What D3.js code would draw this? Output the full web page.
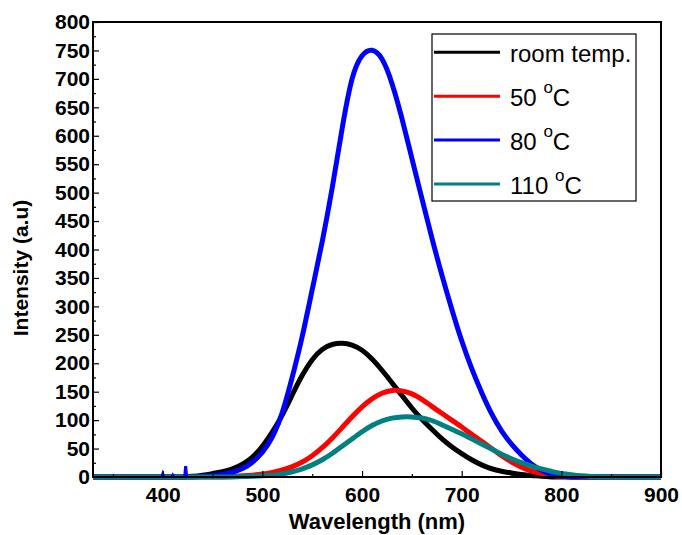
<!DOCTYPE html>
<html>
<head>
<meta charset="utf-8">
<script src="https://cdn.jsdelivr.net/npm/d3@7"></script>
<style>
  body { margin: 0; background: #fff; }
  svg { display: block; font-family: "Liberation Sans", Arial, sans-serif; }
</style>
</head>
<body>
<svg id="chart" width="682" height="535"></svg>
<script>
// ── Data: [wavelength (nm), intensity] ──
const roomTemp = [
  [330,0],[410,0],[420,0],[430,1],[440,3],[450,6],[460,9],[470,14],[480,22],[490,34],[500,53],
  [510,79],[520,108],[530,145],[540,180],[550,208],[560,226],[570,234],[580,236],[590,233],
  [600,224],[610,208],[620,188],[630,166],[640,143],[650,121],[660,101],[670,84],[680,67],
  [690,53],[700,41],[710,30],[720,21],[730,14],[740,10],[750,7],[760,4],[770,3],[780,1],
  [790,0],[800,0],[900,0]
];
const temp50 = [
  [330,0],[450,0],[460,0],[470,1],[480,2],[490,3],[500,5],[510,8],[520,12],[530,18],[540,26],
  [550,37],[560,51],[570,68],[580,87],[590,106],[600,124],[610,138],[620,148],[630,153],
  [640,152],[650,147],[660,137],[670,124],[680,112],[690,100],[700,88],[710,75],[720,63],
  [730,50],[740,37],[750,26],[760,17],[770,10],[780,6],[790,3],[800,1],[810,0],[820,0],[900,0]
];
const temp80 = [
  [330,0],[420,0],[430,0],[440,1],[450,2],[460,4],[470,8],[480,14],[490,25],[500,42],[510,68],
  [520,110],[530,175],[540,245],[550,330],[560,412],[570,505],[580,615],[590,710],[600,745],
  [610,754],[620,740],[630,695],[640,632],[650,560],[660,490],[670,420],[680,355],[690,295],
  [700,238],[710,190],[720,148],[730,110],[740,80],[750,57],[760,38],[770,22],[780,11],
  [790,5],[800,1],[810,0],[820,0],[900,0]
];
// narrow spikes on the 80 °C trace
const spikes80 = [
  [399,0],[400,5],[401,0],[409,0],[410,3],[411,0],[422,0],[423,19],[424,0],
  [517,92],[518,108],[519,100]
];
const temp110 = [
  [330,0],[460,0],[470,0],[480,1],[490,1],[500,2],[510,3],[520,5],[530,9],[540,14],[550,21],
  [560,30],[570,41],[580,54],[590,67],[600,80],[610,91],[620,99],[630,104],[640,106],
  [650,106],[660,104],[670,100],[680,92],[690,84],[700,76],[710,67],[720,58],[730,49],
  [740,40],[750,32],[760,25],[770,19],[780,14],[790,10],[800,6],[810,4],[820,2],[830,1],
  [840,0.5],[850,0],[860,0],[900,0]
];

const seriesNames = ["room temp.", "50", "80", "110"];
const seriesColors = ["#000000", "#ff0000", "#0000ff", "#008080"];
const seriesData = [roomTemp, temp50, temp80, temp110];

const xTicks = [400, 500, 600, 700, 800, 900];
const yTicks = d3.range(0, 801, 50);

// ── Layout ──
const W = 682, H = 535;
const margin = { top: 22, right: 21, bottom: 58, left: 93 };
const svg = d3.select("#chart");

const x = d3.scaleLinear().domain([330, 900]).range([margin.left, W - margin.right]);
const y = d3.scaleLinear().domain([0, 800]).range([H - margin.bottom, margin.top]);

// ── Curves ──
const line = d3.line()
  .x(d => x(d[0]))
  .y(d => y(d[1]))
  .curve(d3.curveBasis);

const spikeLine = d3.line()
  .x(d => x(d[0]))
  .y(d => y(d[1]));

const curves = svg.append("g");

curves.selectAll("path")
  .data(seriesData)
  .join("path")
  .attr("d", line)
  .attr("fill", "none")
  .attr("stroke", (d, i) => seriesColors[i])
  .attr("stroke-width", 5)
  .attr("stroke-linejoin", "round");

// spikes go in groups of three points
curves.selectAll(".spike")
  .data(d3.range(0, spikes80.length, 3).map(i => spikes80.slice(i, i + 3)))
  .join("path")
  .attr("class", "spike")
  .attr("d", spikeLine)
  .attr("fill", "none")
  .attr("stroke", seriesColors[2])
  .attr("stroke-width", 3);

// ── Frame ──
svg.append("rect")
  .attr("x", margin.left)
  .attr("y", margin.top)
  .attr("width", W - margin.left - margin.right)
  .attr("height", H - margin.top - margin.bottom)
  .attr("fill", "none")
  .attr("stroke", "#000")
  .attr("stroke-width", 2);

// ── Axes (ticks point inward) ──
const xAxis = svg.append("g")
  .attr("transform", `translate(0,${H - margin.bottom})`)
  .call(d3.axisBottom(x).tickValues(xTicks).tickSize(-6).tickPadding(10).tickFormat(d3.format("d")));
xAxis.select(".domain").remove();
svg.append("g")
  .attr("transform", `translate(0,${H - margin.bottom})`)
  .call(d3.axisBottom(x).tickValues(d3.range(350, 900, 100)).tickSize(-3).tickFormat(""))
  .select(".domain").remove();

const yAxis = svg.append("g")
  .attr("transform", `translate(${margin.left},0)`)
  .call(d3.axisLeft(y).tickValues(yTicks).tickSize(-6).tickPadding(3).tickFormat(d3.format("d")));
yAxis.select(".domain").remove();
svg.append("g")
  .attr("transform", `translate(${margin.left},0)`)
  .call(d3.axisLeft(y).tickValues(d3.range(25, 800, 50)).tickSize(-3).tickFormat(""))
  .select(".domain").remove();

svg.selectAll(".tick line").attr("stroke", "#000").attr("stroke-width", 1.2);
svg.selectAll(".tick text")
  .attr("fill", "#000")
  .style("font-size", "21px")
  .style("font-weight", "bold")
  .style("font-family", "'Liberation Sans', Arial, sans-serif");

// ── Axis titles ──
svg.append("text")
  .attr("x", 377)
  .attr("y", 529)
  .attr("text-anchor", "middle")
  .style("font-size", "22px")
  .style("font-weight", "bold")
  .text("Wavelength (nm)");

svg.append("text")
  .attr("transform", "translate(28,268) rotate(-90)")
  .attr("text-anchor", "middle")
  .style("font-size", "21px")
  .style("font-weight", "bold")
  .text("Intensity (a.u)");

// ── Legend ──
const legend = svg.append("g");
legend.append("rect")
  .attr("x", 432)
  .attr("y", 34)
  .attr("width", 204)
  .attr("height", 167)
  .attr("fill", "#fff")
  .attr("stroke", "#000")
  .attr("stroke-width", 1.2);

const items = legend.selectAll(".item")
  .data(seriesNames)
  .join("g")
  .attr("class", "item")
  .attr("transform", (d, i) => `translate(0,${52.3 + i * 43.9})`);

items.append("line")
  .attr("x1", 434)
  .attr("x2", 500)
  .attr("stroke", (d, i) => seriesColors[i])
  .attr("stroke-width", 3);

items.each(function (d, i) {
  const t = d3.select(this).append("text")
    .attr("x", 510)
    .attr("y", 10)
    .style("font-size", "24px");
  if (i === 0) {
    t.text(d);
  } else {
    t.append("tspan").text(d + " ");
    t.append("tspan").attr("dy", -13).style("font-size", "17px").text("o");
    t.append("tspan").attr("dy", 13).text("C");
  }
});
</script>
</body>
</html>
